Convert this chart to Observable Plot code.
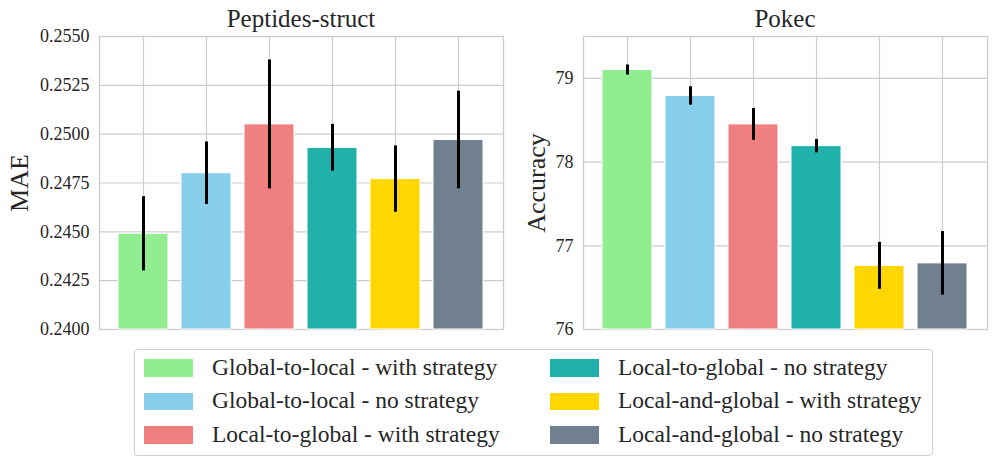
<!DOCTYPE html>
<html>
<head>
<meta charset="utf-8">
<script src="https://cdn.jsdelivr.net/npm/d3@7"></script>
<script src="https://cdn.jsdelivr.net/npm/@observablehq/plot@0.6"></script>
<style>
  body { margin: 0; background: #fff; }
  #wrap { position: relative; width: 996px; height: 467px; font-family: "Liberation Serif", "Times New Roman", serif; color: #262626; overflow: hidden; }
  .panel { position: absolute; top: 0; }
  .title { position: absolute; font-size: 25px; text-align: center; line-height: 1; }
  #legend { position: absolute; left: 134px; top: 349px; width: 799px; height: 107px; border: 1px solid #d0d0d0; border-radius: 4px; box-sizing: border-box; }
  .item { position: absolute; height: 18px; }
  .sw { position: absolute; left: 0; top: 0; width: 49px; height: 17.5px; }
  .lab { position: absolute; left: 68px; top: 50%; transform: translateY(-50%); font-size: 23.5px; white-space: nowrap; line-height: 1; }
</style>
</head>
<body>
<div id="wrap"></div>
<script>
const methods = [
  "Global-to-local - with strategy",
  "Global-to-local - no strategy",
  "Local-to-global - with strategy",
  "Local-to-global - no strategy",
  "Local-and-global - with strategy",
  "Local-and-global - no strategy"
];
const colors = ["#90EE90", "#87CEEB", "#F08080", "#20B2AA", "#FFD700", "#708090"];
const maeValues = [0.2449, 0.2480, 0.2505, 0.2493, 0.2477, 0.2497];
const maeErrors = [0.0019, 0.0016, 0.0033, 0.0012, 0.0017, 0.0025];
const maeTicks = [0.2400, 0.2425, 0.2450, 0.2475, 0.2500, 0.2525, 0.2550];
const accValues = [79.10, 78.79, 78.45, 78.19, 76.76, 76.79];
const accErrors = [0.06, 0.11, 0.19, 0.08, 0.28, 0.38];
const accTicks = [76, 77, 78, 79];
const accDomain = [76, 79.5];

const wrap = document.getElementById("wrap");

function panel({values, errors, ticks, domain, fmt, label, labelSize, labelDx, left, width, marginLeft, marginRight, title}) {
  const data = methods.map((m, i) => ({m, v: values[i], e: errors[i], c: colors[i]}));
  const base = domain[0];
  const chart = Plot.plot({
    width, height: 340,
    marginLeft, marginRight, marginTop: 36, marginBottom: 11,
    style: {fontFamily: "'Liberation Serif', 'Times New Roman', serif", fontSize: "18px", color: "#262626", background: "transparent", overflow: "visible"},
    x: {domain: methods, paddingInner: 0.2, paddingOuter: 0.296, axis: null},
    y: {domain, ticks, tickFormat: fmt, label: null},
    color: {type: "identity"},
    marks: [
      Plot.gridY(ticks, {stroke: "#cccccc", strokeOpacity: 1, strokeWidth: 1.2}),
      Plot.gridX(methods, {stroke: "#cccccc", strokeOpacity: 1, strokeWidth: 1.2}),
      Plot.frame({stroke: "#cccccc", strokeWidth: 1.3}),
      Plot.barY(data, {x: "m", y1: () => base, y2: "v", fill: "c", stroke: "white", strokeWidth: 1}),
      Plot.ruleX(data, {x: "m", y1: d => d.v - d.e, y2: d => d.v + d.e, stroke: "black", strokeWidth: 3}),
      Plot.axisY(ticks, {tickSize: 0, tickPadding: 10, tickFormat: fmt, label: null, fontSize: 18, fill: "#262626"}),
      Plot.text([label], {frameAnchor: "left", textAnchor: "middle", lineAnchor: "middle", rotate: -90, dx: labelDx, fontSize: labelSize, fill: "#262626"})
    ]
  });
  chart.classList.add("panel");
  chart.style.left = left + "px";
  wrap.appendChild(chart);
  const t = document.createElement("div");
  t.className = "title";
  t.textContent = title;
  const plotLeft = left + marginLeft, plotRight = left + width - marginRight;
  t.style.left = plotLeft + "px";
  t.style.width = (plotRight - plotLeft) + "px";
  t.style.top = "6px";
  wrap.appendChild(t);
}

panel({values: maeValues, errors: maeErrors, ticks: maeTicks, domain: [maeTicks[0], maeTicks[maeTicks.length - 1]],
  fmt: d3.format(".4f"), label: "MAE", labelSize: 26, labelDx: -80, left: 0, width: 510, marginLeft: 99, marginRight: 7,
  title: "Peptides-struct"});
panel({values: accValues, errors: accErrors, ticks: accTicks, domain: accDomain,
  fmt: d3.format("d"), label: "Accuracy", labelSize: 26, labelDx: -47, left: 500, width: 496, marginLeft: 83, marginRight: 9,
  title: "Pokec"});

const legend = document.createElement("div");
legend.id = "legend";
wrap.appendChild(legend);
const colX = [9, 415];
const rowY = [9, 42.5, 76];
methods.forEach((m, i) => {
  const col = Math.floor(i / 3), row = i % 3;
  const it = document.createElement("div");
  it.className = "item";
  it.style.left = colX[col] + "px";
  it.style.top = rowY[row] + "px";
  it.style.width = "380px";
  it.style.height = "17.5px";
  const sw = document.createElement("div");
  sw.className = "sw";
  sw.style.background = colors[i];
  const lab = document.createElement("div");
  lab.className = "lab";
  lab.textContent = m;
  it.appendChild(sw);
  it.appendChild(lab);
  legend.appendChild(it);
});
</script>
</body>
</html>
